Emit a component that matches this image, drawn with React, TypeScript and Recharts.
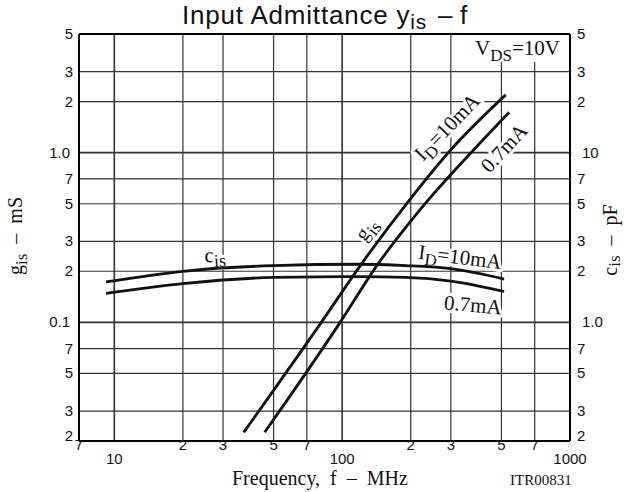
import { LineChart, Line, XAxis, YAxis, ReferenceLine } from 'recharts';

const W = 624;
const H = 492;
const LEFT = 79;   // plot left edge
const RIGHT = 570; // plot right edge
const TOP = 34;
const BOTTOM = 441;

const serif = '"Liberation Serif", "Times New Roman", serif';
const sans = '"Liberation Sans", Arial, sans-serif';

// frequency axis, MHz
const freqTicks = [7, 10, 20, 30, 50, 70, 100, 200, 300, 500, 700, 1000];
const freqTickLabels = ['7', '10', '2', '3', '5', '7', '100', '2', '3', '5', '7', '1000'];
const freqDecades = [10, 100, 1000];

// left axis: g_is in mS
const gTicks = [5, 3, 2, 1, 0.7, 0.5, 0.3, 0.2, 0.1, 0.07, 0.05, 0.03, 0.02];
const gTickLabels = ['5', '3', '2', '1.0', '7', '5', '3', '2', '0.1', '7', '5', '3', '2'];
const gDecades = [1, 0.1];

// right axis: c_is in pF
const cTicks = [50, 30, 20, 10, 7, 5, 3, 2, 1, 0.7, 0.5, 0.3, 0.2];
const cTickLabels = ['5', '3', '2', '10', '7', '5', '3', '2', '1.0', '7', '5', '3', '2'];
const cDecades = [10, 1];

// g_is curves
const gis10mAFreq = [37, 81, 121, 197, 300, 522];
const gis10mA = [0.0225, 0.1, 0.219, 0.524, 1.04, 2.19];
const gis07mAFreq = [45.7, 98, 142, 219, 378, 541];
const gis07mA = [0.0225, 0.1, 0.216, 0.459, 1.04, 1.73];

// c_is curves
const cisFreq = [9.2, 20, 50, 117, 190, 300, 514];
const cis10mA = [1.73, 2.0, 2.16, 2.2, 2.16, 2.07, 1.8];
const cis07mA = [1.48, 1.69, 1.84, 1.86, 1.84, 1.75, 1.52];

const toPoints = (fs: number[], vs: number[]) => fs.map((f, i) => ({ f, v: vs[i] }));

const XTick = ({ x, payload }: any) => {
  const i = freqTicks.indexOf(payload.value);
  const dec = freqDecades.includes(payload.value);
  return (
    <text x={x} y={dec ? 464 : 450} textAnchor="middle" fontSize={15} fontFamily={sans} fill="#111">
      {freqTickLabels[i]}
    </text>
  );
};

const LeftTick = ({ y, payload }: any) => {
  const i = gTicks.indexOf(payload.value);
  const dec = gDecades.includes(payload.value);
  const yy = i === gTicks.length - 1 ? y - 5 : y;
  return (
    <text x={dec ? LEFT - 9 : LEFT - 6} y={yy + 5} textAnchor="end" fontSize={15} fontFamily={sans} fill="#111">
      {gTickLabels[i]}
    </text>
  );
};

const RightTick = ({ y, payload }: any) => {
  const i = cTicks.indexOf(payload.value);
  const dec = cDecades.includes(payload.value);
  const yy = i === cTicks.length - 1 ? y - 5 : y;
  return (
    <text x={dec ? RIGHT + 12 : RIGHT + 7} y={yy + 5} textAnchor="start" fontSize={15} fontFamily={sans} fill="#111">
      {cTickLabels[i]}
    </text>
  );
};

const margin = { top: TOP, right: 0, bottom: 0, left: 0 };
const xProps = {
  dataKey: 'f',
  type: 'number' as const,
  scale: 'log' as const,
  domain: [7, 1000],
  ticks: freqTicks,
  allowDataOverflow: true,
  height: H - BOTTOM,
  tickLine: false,
};
const gProps = {
  yAxisId: 'g',
  orientation: 'left' as const,
  type: 'number' as const,
  scale: 'log' as const,
  domain: [0.02, 5],
  ticks: gTicks,
  allowDataOverflow: true,
  width: LEFT,
  tickLine: false,
};
const cProps = {
  yAxisId: 'c',
  orientation: 'right' as const,
  type: 'number' as const,
  scale: 'log' as const,
  domain: [0.2, 50],
  ticks: cTicks,
  allowDataOverflow: true,
  width: W - RIGHT,
  tickLine: false,
};

const halo = { stroke: '#fff', strokeWidth: 6, paintOrder: 'stroke' as const, strokeLinejoin: 'round' as const };

const Label = ({ cx, cy, angle, children }: any) => (
  <g transform={`translate(${cx},${cy}) rotate(${angle})`}>
    <text x={0} y={7} textAnchor="middle" fontSize={21} fontFamily={serif} fill="#111" {...halo}>
      {children}
    </text>
  </g>
);

export default function App() {
  return (
    <div style={{ position: 'absolute', left: 0, top: 0, width: W, height: H, background: '#fff' }}>
      {/* grid, frame and axes */}
      <div style={{ position: 'absolute', left: 0, top: 0 }}>
        <LineChart width={W} height={H} margin={margin}>
          <XAxis {...xProps} tick={<XTick />} axisLine={{ stroke: '#000', strokeWidth: 2 }} />
          <YAxis {...gProps} tick={<LeftTick />} axisLine={{ stroke: '#000', strokeWidth: 2 }} />
          <YAxis {...cProps} tick={<RightTick />} axisLine={{ stroke: '#000', strokeWidth: 2 }} />
          {freqTicks.slice(1, -1).map((f) => (
            <ReferenceLine key={`x-${f}`} x={f} yAxisId="g" stroke="#333"
              strokeWidth={freqDecades.includes(f) ? 1.6 : 1.2} />
          ))}
          {gTicks.slice(1, -1).map((v) => (
            <ReferenceLine key={`y-${v}`} y={v} yAxisId="g" stroke="#333"
              strokeWidth={gDecades.includes(v) ? 1.6 : 1.2} />
          ))}
          <ReferenceLine y={5} yAxisId="g" stroke="#000" strokeWidth={2} />
        </LineChart>
      </div>

      {/* texts */}
      <svg width={W} height={H} style={{ position: 'absolute', left: 0, top: 0 }}>
        <text x={182} y={24} fontSize={26} fontFamily={sans} fill="#111" letterSpacing={0.8}>
          Input Admittance y<tspan dy={5} fontSize={21}>is</tspan>
          <tspan x={438} dy={-5}>–</tspan>
          <tspan x={460}>f</tspan>
        </text>

        <rect x={459} y={35} width={110} height={27} fill="#fff" />
        <text x={475} y={55} fontSize={21} fontFamily={serif} fill="#111">
          V<tspan dy={6} fontSize={17}>DS</tspan><tspan dy={-6}>=10V</tspan>
        </text>

        <Label cx={447} cy={127} angle={-46}>
          I<tspan dy={5} fontSize={17}>D</tspan><tspan dy={-5}>=10mA</tspan>
        </Label>
        <Label cx={504} cy={148} angle={-47}>0.7mA</Label>
        <Label cx={366} cy={229} angle={-53}>
          g<tspan dy={5} fontSize={18}>is</tspan>
        </Label>
        <Label cx={460} cy={257} angle={7}>
          I<tspan dy={5} fontSize={17}>D</tspan><tspan dy={-5}>=10mA</tspan>
        </Label>
        <Label cx={473} cy={305} angle={5}>0.7mA</Label>
        <Label cx={215} cy={255} angle={-3}>
          c<tspan dy={5} fontSize={18}>is</tspan>
        </Label>

        <text x={232} y={485} fontSize={20} fontFamily={serif} fill="#111" style={{ whiteSpace: 'pre' }}>
          Frequency,  f  –  MHz
        </text>
        <text x={510} y={485} fontSize={15} fontFamily={serif} fill="#111">ITR00831</text>

        <text transform="translate(22,236) rotate(-90)" textAnchor="middle" fontSize={20} fontFamily={serif} fill="#111" style={{ whiteSpace: 'pre' }}>
          g<tspan dy={5} fontSize={17}>is</tspan><tspan dy={-5}>  –  mS</tspan>
        </text>
        <text transform="translate(617,240) rotate(-90)" textAnchor="middle" fontSize={20} fontFamily={serif} fill="#111" style={{ whiteSpace: 'pre' }}>
          c<tspan dy={3} fontSize={17}>is</tspan><tspan dy={-3}>  –  pF</tspan>
        </text>
      </svg>

      {/* curves on top */}
      <div style={{ position: 'absolute', left: 0, top: 0 }}>
        <LineChart width={W} height={H} margin={margin}>
          <XAxis {...xProps} tick={false} axisLine={false} />
          <YAxis {...gProps} tick={false} axisLine={false} />
          <YAxis {...cProps} tick={false} axisLine={false} />
          <Line data={toPoints(gis10mAFreq, gis10mA)} dataKey="v" yAxisId="g" type="monotone" stroke="#111" strokeWidth={2.8} dot={false} isAnimationActive={false} />
          <Line data={toPoints(gis07mAFreq, gis07mA)} dataKey="v" yAxisId="g" type="monotone" stroke="#111" strokeWidth={2.8} dot={false} isAnimationActive={false} />
          <Line data={toPoints(cisFreq, cis10mA)} dataKey="v" yAxisId="c" type="monotone" stroke="#111" strokeWidth={2.8} dot={false} isAnimationActive={false} />
          <Line data={toPoints(cisFreq, cis07mA)} dataKey="v" yAxisId="c" type="monotone" stroke="#111" strokeWidth={2.8} dot={false} isAnimationActive={false} />
        </LineChart>
      </div>
    </div>
  );
}
